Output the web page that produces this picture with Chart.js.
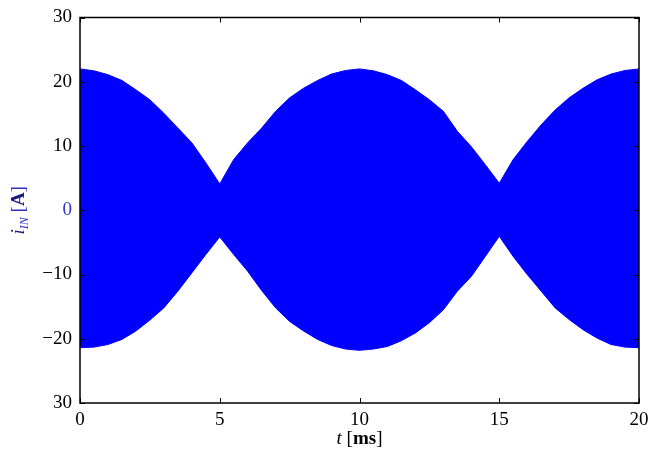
<!DOCTYPE html>
<html>
<head>
<meta charset="utf-8">
<script src="https://cdn.jsdelivr.net/npm/chart.js@4"></script>
<style>
  html, body { margin: 0; padding: 0; background: #fff; }
</style>
</head>
<body>
<canvas id="chart" width="649" height="454"></canvas>
<script>
// envelope of the fast oscillating current (ms, A)
const timeMs = [0, 0.5, 1, 1.5, 2, 2.5, 3, 3.5, 4, 4.5, 5, 5.5, 6, 6.5, 7, 7.5, 8, 8.5, 9, 9.5, 10,
  10.5, 11, 11.5, 12, 12.5, 13, 13.5, 14, 14.5, 15, 15.5, 16, 16.5, 17, 17.5, 18, 18.5, 19, 19.5, 20];
const upperEnv = [22.0, 21.7, 21.1, 20.2, 18.75, 17.2, 15.1, 12.8, 10.5, 7.4, 4.1, 7.9, 10.5, 12.8, 15.4, 17.5, 19.0, 20.2, 21.2, 21.75, 22.0,
  21.7, 21.1, 20.2, 18.75, 17.2, 15.4, 12.3, 9.9, 7.1, 4.2, 7.9, 10.7, 13.3, 15.6, 17.5, 19.0, 20.3, 21.2, 21.75, 22.0];
const lowerEnv = [-21.4, -21.3, -20.9, -20.1, -18.8, -17.1, -15.2, -12.6, -9.75, -6.9, -4.15, -6.9, -9.5, -12.5, -15.2, -17.3, -18.8, -20.1, -21.05, -21.6, -21.8,
  -21.6, -21.2, -20.3, -19.1, -17.5, -15.5, -12.6, -10.3, -7.2, -4.05, -7.2, -10.0, -12.6, -15.2, -17.0, -18.6, -19.9, -20.9, -21.3, -21.4];
const xTicks = [0, 5, 10, 15, 20];
const yTicks = [-30, -20, -10, 0, 10, 20, 30];

const blue = '#0000ff';
const serif = "'Liberation Serif', 'DejaVu Serif', serif";

// ticks pointing inward on all four sides, plus the box and axis labels
const framePlugin = {
  id: 'frame',
  afterDraw(chart) {
    const ctx = chart.ctx;
    const a = chart.chartArea;
    const xs = chart.scales.x, ys = chart.scales.y;
    ctx.save();
    ctx.strokeStyle = '#000';
    ctx.lineWidth = 1;
    ctx.beginPath();
    xTicks.forEach(v => {
      const px = Math.round(xs.getPixelForValue(v)) + 0.5;
      ctx.moveTo(px, a.bottom); ctx.lineTo(px, a.bottom - 5);
      ctx.moveTo(px, a.top); ctx.lineTo(px, a.top + 5);
    });
    yTicks.forEach(v => {
      const py = Math.round(ys.getPixelForValue(v)) + 0.5;
      ctx.moveTo(a.left, py); ctx.lineTo(a.left + 5, py);
      ctx.moveTo(a.right, py); ctx.lineTo(a.right - 5, py);
    });
    ctx.stroke();
    ctx.lineWidth = 1.5;
    ctx.strokeRect(a.left, a.top, a.right - a.left, a.bottom - a.top);

    // x label: t [ms]
    ctx.fillStyle = '#000';
    ctx.textBaseline = 'alphabetic';
    const parts = [
      ['italic 19px ' + serif, 't '],
      ['19px ' + serif, '['],
      ['bold 19px ' + serif, 'ms'],
      ['19px ' + serif, ']']
    ];
    let w = 0;
    parts.forEach(p => { ctx.font = p[0]; w += ctx.measureText(p[1]).width; });
    let x = (a.left + a.right) / 2 - w / 2;
    parts.forEach(p => { ctx.font = p[0]; ctx.fillText(p[1], x, 444); x += ctx.measureText(p[1]).width; });

    // y label: i_IN [A], rotated
    ctx.translate(24, (a.top + a.bottom) / 2);
    ctx.rotate(-Math.PI / 2);
    const yparts = [
      ['italic 19px ' + serif, 'i', 0, '#1a1a80'],
      ['italic 12px ' + serif, 'IN', 4, '#3030c0'],
      ['19px ' + serif, ' [', 0, '#3030c0'],
      ['bold 19px ' + serif, 'A', 0, '#1a1a80'],
      ['19px ' + serif, ']', 0, '#3030c0']
    ];
    w = 0;
    yparts.forEach(p => { ctx.font = p[0]; w += ctx.measureText(p[1]).width; });
    x = -w / 2;
    yparts.forEach(p => {
      ctx.font = p[0];
      ctx.fillStyle = p[3];
      ctx.fillText(p[1], x, p[2]);
      x += ctx.measureText(p[1]).width;
    });
    ctx.restore();
  }
};

new Chart(document.getElementById('chart'), {
  type: 'line',
  data: {
    datasets: [{
      label: 'upper',
      data: timeMs.map((t, i) => ({ x: t, y: upperEnv[i] })),
      borderColor: blue,
      backgroundColor: blue,
      borderWidth: 1,
      pointRadius: 0,
      tension: 0,
      fill: '+1'
    }, {
      label: 'lower',
      data: timeMs.map((t, i) => ({ x: t, y: lowerEnv[i] })),
      borderColor: blue,
      backgroundColor: blue,
      borderWidth: 1,
      pointRadius: 0,
      tension: 0,
      fill: false
    }]
  },
  options: {
    responsive: false,
    animation: false,
    devicePixelRatio: 1,
    layout: { padding: { top: 17.5, right: 10, left: 0, bottom: 0 } },
    plugins: {
      legend: { display: false },
      tooltip: { enabled: false }
    },
    scales: {
      x: {
        type: 'linear',
        min: 0,
        max: 20,
        afterBuildTicks: s => { s.ticks = xTicks.map(v => ({ value: v })); },
        afterFit: s => { s.height = 51; s.paddingLeft = 0; s.paddingRight = 0; },
        grid: { display: false, drawTicks: false },
        border: { display: false },
        ticks: {
          color: '#000',
          padding: 6,
          maxRotation: 0,
          font: { family: serif, size: 19 }
        }
      },
      y: {
        min: -30,
        max: 30,
        afterBuildTicks: s => { s.ticks = yTicks.map(v => ({ value: v })); },
        afterFit: s => { s.width = 80; s.paddingTop = 0; s.paddingBottom = 0; },
        grid: { display: false, drawTicks: false },
        border: { display: false },
        ticks: {
          padding: 8,
          color: ctx => ctx.tick.value === 0 ? '#3333cc' : '#000',
          font: { family: serif, size: 19 },
          callback: v => v === -30 ? '30' : (v < 0 ? '\u2212' + Math.abs(v) : String(v))
        }
      }
    }
  },
  plugins: [framePlugin]
});
</script>
</body>
</html>
